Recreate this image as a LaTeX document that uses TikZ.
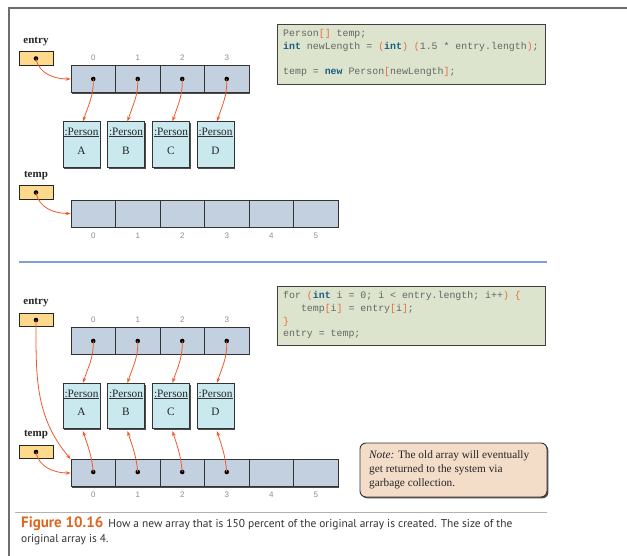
\documentclass[tikz,border=0pt]{standalone}
\usepackage{fontspec}
\setmainfont{Liberation Serif}
\setmonofont{Liberation Mono}
\setsansfont{PT Sans}
\newfontfamily\idxfont{Liberation Sans}
\usetikzlibrary{arrows.meta,shadows}
\definecolor{framegray}{HTML}{6E6E6E}
\definecolor{arrfill}{HTML}{C3D0E0}
\definecolor{perfill}{HTML}{C9E9EF}
\definecolor{reffill}{HTML}{FDD98B}
\definecolor{codefill}{HTML}{DCE4CD}
\definecolor{notefill}{HTML}{F3DCC8}
\definecolor{ptrcol}{HTML}{EE5A2C}
\definecolor{codegray}{HTML}{666666}
\definecolor{codeor}{HTML}{EE6A3E}
\definecolor{codekw}{HTML}{1D5C86}
\definecolor{sepblue}{HTML}{7F9FD6}
\definecolor{idxgray}{HTML}{8E8E8E}
\definecolor{capor}{HTML}{E0661E}
\definecolor{capgray}{HTML}{333333}
\newcommand\ob[1]{\textcolor{codeor}{#1}}
\newcommand\kw[1]{\textcolor{codekw}{\bfseries #1}}
\begin{document}
\begin{tikzpicture}[x=1pt,y=1pt,
  shad/.style={drop shadow={shadow xshift=1.4pt,shadow yshift=-1.4pt,fill=black!70,opacity=1}},
  arraybox/.style={draw=black!80,line width=0.8pt,fill=arrfill,shad,inner sep=0pt,minimum height=27pt},
  divider/.style={draw=black!80,line width=0.8pt},
  refbox/.style={draw=black!85,line width=0.8pt,fill=reffill,inner sep=0pt,minimum width=34pt,minimum height=13.5pt},
  perbox/.style={draw=black!80,line width=0.8pt,fill=perfill,shad,inner sep=0pt,minimum width=37pt,minimum height=45.5pt},
  vlabel/.style={font=\fontsize{11}{13}\selectfont\bfseries,text=black!85,inner sep=0pt},
  pertext/.style={font=\fontsize{11.3}{13}\selectfont,text=black!85,inner sep=0pt},
  idx/.style={font=\idxfont\fontsize{8}{9}\selectfont,text=idxgray,inner sep=0pt},
  codebox/.style={draw=black!75,line width=0.9pt,fill=codefill,shad,inner sep=0pt},
  codeline/.style={font=\ttfamily\fontsize{9.9}{12}\selectfont,text=codegray,inner sep=0pt,anchor=base west},
  notebox/.style={draw=black!80,line width=0.9pt,fill=notefill,rounded corners=6pt,shad,inner sep=0pt},
  noteline/.style={font=\fontsize{11.3}{14}\selectfont,text=black!85,inner sep=0pt,anchor=base west},
  capline/.style={anchor=base west,inner sep=0pt,font=\sffamily\fontsize{11.4}{14}\selectfont,text=capgray},
  ptr/.style={draw=ptrcol,line width=0.8pt,-{Stealth[length=5pt,width=3.6pt]}},
  dotmark/.style={circle,fill=black,inner sep=0pt,minimum size=4.6pt}
]
\useasboundingbox (0,0) rectangle (627,-556);
\fill[white] (0,0) rectangle (627,-556);
% frame
\draw[framegray,line width=2pt] (8.5,-556) -- (8.5,-8.5) -- (627,-8.5);

% ================= TOP SECTION =================
\node[vlabel] (entryL1) at (36,-42) {entry};
\node[refbox] (entryB1) at (36,-58.5) {};
\node[dotmark] (entryD1) at (entryB1.center) {};

\node[arraybox,minimum width=178pt] (A1) at (160,-79) {};
\foreach \xx in {115.5,160,204.5} \draw[divider] (\xx,-66) -- (\xx,-92);
\foreach \i/\xx in {0/93.25,1/137.75,2/182.25,3/226.75}{
  \node[dotmark] (a1d\i) at (\xx,-79) {};
  \node[idx] (a1i\i) at (\xx,-58) {\i};
}
\foreach \i/\xx/\ll in {0/81.5/A,1/126/B,2/171/C,3/215.5/D}{
  \node[perbox] (P\i) at (\xx,-144.5) {};
  \node[pertext] (P\i t) at (\xx,-132) {:Person};
  \draw[black!80,line width=0.6pt] ([xshift=1.5pt,yshift=-15pt]P\i.north west) -- ([xshift=-1.5pt,yshift=-15pt]P\i.north east);
  \node[pertext] (P\i l) at (\xx,-150.5) {\ll};
  \draw[ptr] (a1d\i.center) to[out=-88,in=72] ([xshift=1.5pt]P\i.north);
}
\draw[ptr] (entryD1.center) to[out=-80,in=180] (A1.west);

\node[vlabel] (tempL1) at (36,-176) {temp};
\node[refbox] (tempB1) at (36,-192.5) {};
\node[dotmark] (tempD1) at (tempB1.center) {};
\node[arraybox,minimum width=267pt] (T1) at (204.5,-213.5) {};
\foreach \xx in {115.5,160,204.5,249,293.5} \draw[divider] (\xx,-200) -- (\xx,-227);
\foreach \i/\xx in {0/93.25,1/137.75,2/182.25,3/226.75,4/271.25,5/315.75}{
  \node[idx] (t1i\i) at (\xx,-235.5) {\i};
}
\draw[ptr] (tempD1.center) to[out=-80,in=180] (T1.west);

% code box 1
\node[codebox,minimum width=268pt,minimum height=60pt] (code1) at (411,-54) {};
\node[codeline] (c1l1) at (283,-37) {Person\ob{[]} temp;};
\node[codeline] (c1l2) at (283,-49.7) {\kw{int} newLength = \ob{(}\kw{int}\ob{)} \ob{(}1.5 * entry.length\ob{)};};
\node[codeline] (c1l3) at (283,-75) {temp = \kw{new} Person\ob{[}newLength\ob{]};};

% separator
\draw[sepblue,line width=2pt] (19,-262) -- (547,-262);

% ================= BOTTOM SECTION =================
\node[vlabel] (entryL2) at (36,-303) {entry};
\node[refbox] (entryB2) at (36,-320) {};
\node[dotmark] (entryD2) at (entryB2.center) {};

\node[arraybox,minimum width=178pt] (A2) at (160,-340.5) {};
\foreach \xx in {115.5,160,204.5} \draw[divider] (\xx,-327) -- (\xx,-354);
\foreach \i/\xx in {0/93.25,1/137.75,2/182.25,3/226.75}{
  \node[dotmark] (a2d\i) at (\xx,-341) {};
  \node[idx] (a2i\i) at (\xx,-320) {\i};
}

\node[vlabel] (tempL2) at (36,-435) {temp};
\node[refbox] (tempB2) at (36,-452) {};
\node[dotmark] (tempD2) at (tempB2.center) {};
\node[arraybox,minimum width=267pt] (T2) at (204.5,-473) {};
\foreach \xx in {115.5,160,204.5,249,293.5} \draw[divider] (\xx,-459.5) -- (\xx,-486.5);
\foreach \i/\xx in {0/93.25,1/137.75,2/182.25,3/226.75,4/271.25,5/315.75}{
  \node[idx] (t2i\i) at (\xx,-494.5) {\i};
}
\foreach \i/\xx in {0/93.25,1/137.75,2/182.25,3/226.75}{
  \node[dotmark] (t2d\i) at (\xx,-472) {};
}

\foreach \i/\xx/\ll in {0/81.5/A,1/126/B,2/171/C,3/215.5/D}{
  \node[perbox] (Q\i) at (\xx,-406) {};
  \node[pertext] (Q\i t) at (\xx,-393.5) {:Person};
  \draw[black!80,line width=0.6pt] ([xshift=1.5pt,yshift=-15pt]Q\i.north west) -- ([xshift=-1.5pt,yshift=-15pt]Q\i.north east);
  \node[pertext] (Q\i l) at (\xx,-412) {\ll};
  \draw[ptr] (a2d\i.center) to[out=-88,in=72] ([xshift=1.5pt]Q\i.north);
  \draw[ptr] (t2d\i.center) to[out=95,in=-72] ([xshift=1.5pt,yshift=-2pt]Q\i.south);
}
\draw[ptr] (entryD2.center) to[out=-90,in=130] (T2.north west);
\draw[ptr] (tempD2.center) to[out=-80,in=180] (T2.west);

% code box 2
\node[codebox,minimum width=268pt,minimum height=59pt] (code2) at (411,-315.5) {};
\node[codeline] (c2l1) at (283,-299) {for \ob{(}\kw{int} i = 0; i < entry.length; i++\ob{)} \ob{\{}};
\node[codeline] (c2l2) at (283,-311.5) {\phantom{ttt}temp\ob{[}i\ob{]} = entry\ob{[}i\ob{]};};
\node[codeline] (c2l3) at (283,-324) {\ob{\}}};
\node[codeline] (c2l4) at (283,-337) {entry = temp;};

% note
\node[notebox,minimum width=187pt,minimum height=54pt] (note) at (453.5,-470) {};
\node[noteline] (n1) at (369,-458.5) {\textit{Note:} The old array will eventually};
\node[noteline] (n2) at (369,-472.5) {get returned to the system via};
\node[noteline] (n3) at (369,-486.5) {garbage collection.};

% caption
\draw[black!30,line width=1pt] (15,-512) -- (547,-512);
\node[capline] (cap1) at (21,-527)
  {{\fontsize{15}{16}\selectfont\bfseries\color{capor}Figure 10.16}\hspace{5pt}How a new array that is 150 percent of the original array is created. The size of the};
\node[capline] (cap2) at (21,-542.5) {original array is 4.};
\end{tikzpicture}
\end{document}
